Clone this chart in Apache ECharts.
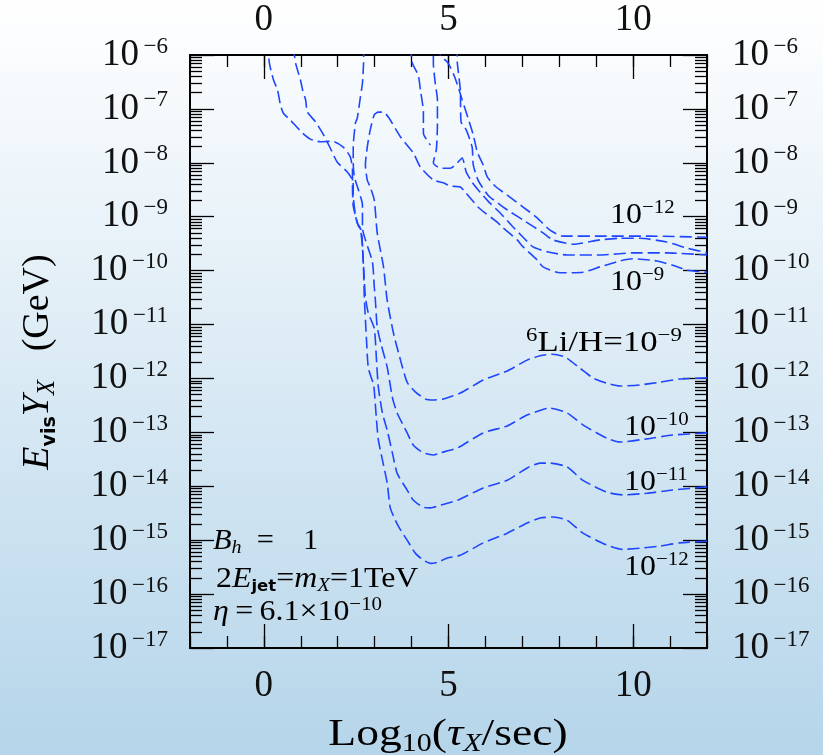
<!DOCTYPE html>
<html><head><meta charset="utf-8">
<script src="https://cdn.jsdelivr.net/npm/echarts@6/dist/echarts.min.js"></script>
<style>html,body{margin:0;padding:0;background:#fff;} #c{width:823px;height:755px;}</style>
</head><body><div id="c"></div>
<script>
// x: log10(tau_X / sec);  y: log10(E_vis * Y_X / GeV)
const xMajorTicks = [0, 5, 10];
const yDecades = [-17, -16, -15, -14, -13, -12, -11, -10, -9, -8, -7, -6];
const minorMantissas = [2, 3, 4, 5, 6, 7, 8, 9];

// 6Li/H = 1e-9 contour
const contour9 = [
 [12.0,-11.99],[11.26,-12.01],[10.72,-12.07],[10.18,-12.12],[9.64,-12.14],[9.29,-12.09],[8.91,-11.99],[8.56,-11.81],[8.15,-11.60],[7.80,-11.55],[7.48,-11.58],[7.13,-11.66],[6.59,-11.86],[5.94,-12.03],[5.32,-12.27],[4.86,-12.38],[4.59,-12.40],[4.37,-12.38],[4.10,-12.25],[3.88,-12.07],[3.70,-11.66],[3.51,-11.16],[3.34,-10.55],[3.24,-9.93],[3.07,-9.30],[2.99,-8.69],[2.88,-8.45],[2.80,-8.32],[2.75,-8.04],[2.80,-7.71],[2.88,-7.39],[2.99,-7.11],[3.10,-7.06],[3.24,-7.06],[3.37,-7.15],[3.70,-7.52],[4.05,-7.82],[4.24,-8.08],[4.59,-8.32],[4.86,-8.37],[5.05,-8.43],[5.32,-8.45],[5.45,-8.54],[5.80,-8.82],[5.99,-8.93],[6.32,-9.10],[6.45,-9.19],[6.86,-9.43],[7.02,-9.56],[7.40,-9.80],[7.56,-9.93],[8.02,-10.04],[8.64,-10.03],[9.10,-9.93],[9.64,-9.82],[9.99,-9.78],[10.64,-9.82],[11.07,-9.90],[11.45,-9.99],[12.0,-10.03]
];
// 6Li/H = 1e-10 contour
const contour10 = [
 [12.0,-13.01],[11.07,-13.05],[10.37,-13.12],[9.64,-13.18],[9.29,-13.11],[8.64,-12.86],[8.21,-12.64],[7.75,-12.55],[7.13,-12.68],[6.59,-12.88],[5.94,-13.01],[5.24,-13.29],[4.78,-13.38],[4.59,-13.42],[4.32,-13.38],[4.05,-13.24],[3.88,-13.01],[3.61,-12.64],[3.48,-12.35],[3.34,-11.79],[3.18,-11.38],[3.07,-11.05],[3.02,-10.55],[2.99,-10.30],[2.94,-9.84],[2.75,-9.43],[2.67,-9.21],[2.67,-8.78],[2.56,-8.50],[2.45,-8.26],[2.42,-8.00],[2.42,-7.71],[2.48,-7.26],[2.53,-7.17],[2.61,-6.80],[2.67,-6.52],[2.70,-6.15],[2.72,-5.72],[4.59,-5.72],[4.59,-6.15],[4.64,-6.52],[4.70,-6.83],[4.70,-7.30],[4.67,-7.76],[4.59,-8.00],[4.78,-8.10],[5.05,-8.10],[5.24,-8.00],[5.37,-7.91],[5.48,-8.17],[5.64,-8.36],[5.80,-8.50],[6.07,-8.71],[6.40,-8.93],[6.75,-9.19],[7.02,-9.38],[7.29,-9.56],[7.67,-9.65],[8.21,-9.71],[9.10,-9.71],[9.99,-9.67],[10.91,-9.67],[12.0,-9.71]
];
// 6Li/H = 1e-11 contour
const contour11 = [
 [12.0,-14.01],[11.07,-14.07],[10.37,-14.13],[9.72,-14.16],[9.29,-14.11],[8.64,-13.89],[8.21,-13.64],[7.75,-13.57],[7.48,-13.57],[7.13,-13.66],[6.59,-13.89],[5.94,-14.03],[5.24,-14.26],[4.78,-14.35],[4.51,-14.40],[4.32,-14.39],[4.05,-14.26],[3.88,-14.07],[3.61,-13.76],[3.48,-13.38],[3.34,-12.96],[3.21,-12.64],[3.10,-12.16],[3.05,-11.66],[2.99,-11.07],[2.83,-10.79],[2.75,-10.49],[2.70,-9.93],[2.67,-9.56],[2.61,-9.21],[2.53,-9.12],[2.48,-8.97],[2.42,-8.60],[2.42,-8.36],[2.26,-8.17],[1.99,-7.99],[1.80,-7.73],[1.59,-7.45],[1.40,-7.24],[1.18,-7.06],[1.13,-6.83],[1.05,-6.65],[0.99,-6.46],[0.86,-6.15],[0.77,-5.72],[5.21,-5.72],[5.24,-6.15],[5.32,-6.65],[5.34,-7.24],[5.48,-7.39],[5.64,-7.71],[5.67,-8.04],[5.80,-8.32],[6.07,-8.60],[6.40,-8.78],[6.67,-8.91],[7.02,-9.06],[7.56,-9.30],[7.83,-9.43],[8.37,-9.51],[9.10,-9.43],[9.64,-9.40],[10.18,-9.40],[10.91,-9.47],[11.45,-9.58],[12.0,-9.67]
];
// 6Li/H = 1e-12 contour
const contour12 = [
 [12.0,-15.02],[11.26,-15.05],[10.72,-15.11],[10.18,-15.15],[9.72,-15.17],[9.29,-15.09],[8.64,-14.87],[8.21,-14.63],[7.83,-14.57],[7.48,-14.59],[7.13,-14.68],[6.59,-14.87],[5.94,-15.05],[5.32,-15.28],[4.97,-15.33],[4.70,-15.41],[4.51,-15.43],[4.32,-15.37],[4.10,-15.24],[3.88,-15.00],[3.70,-14.81],[3.56,-14.63],[3.42,-14.39],[3.34,-13.94],[3.21,-13.51],[3.10,-13.14],[3.05,-12.77],[2.99,-12.22],[2.96,-12.09],[2.83,-11.81],[2.78,-11.29],[2.72,-10.49],[2.70,-9.99],[2.67,-9.53],[2.64,-9.25],[2.56,-9.17],[2.42,-8.80],[2.40,-8.41],[2.40,-8.13],[2.34,-7.89],[2.15,-7.71],[1.86,-7.60],[1.53,-7.61],[1.26,-7.56],[1.05,-7.45],[0.72,-7.21],[0.53,-7.08],[0.45,-6.93],[0.37,-6.65],[0.26,-6.46],[0.15,-6.15],[0.10,-5.72],[4.67,-5.72],[4.78,-6.00],[4.99,-6.15],[5.18,-6.43],[5.37,-6.83],[5.53,-7.17],[5.67,-7.48],[5.78,-7.80],[5.94,-8.04],[6.05,-8.26],[6.26,-8.43],[6.59,-8.60],[7.02,-8.82],[7.40,-9.02],[7.75,-9.25],[8.10,-9.36],[9.10,-9.36],[10.45,-9.36],[12.0,-9.38]
];
// short separate piece near the top
const fragment = [[3.97,-5.81],[4.02,-6.15],[4.18,-6.37],[4.24,-6.65],[4.32,-7.06],[4.32,-7.45],[4.51,-7.67]];

const FONT = 'Liberation Serif';
const INK = '#111';
const BLUE = '#1f46ff';

const minorY = [];
yDecades.slice(0, -1).forEach(n => minorMantissas.forEach(k => minorY.push(n + Math.log10(k))));

const supLabel = v => '{b|10}{s|\u2009\u2212' + Math.abs(v) + '}';
const labRich = {
  b: {fontSize: 37, fontFamily: FONT, color: INK, lineHeight: 40},
  s: {fontSize: 23, fontFamily: FONT, color: INK, lineHeight: 30, verticalAlign: 'top'}
};
const tickStyle = {color: '#000', width: 1.3};

function xAx(pos, major) {
  return {
    type: 'value', position: pos, min: -2, max: 12, interval: 1,
    axisLine: {show: !major, onZero: false, lineStyle: {color: '#000', width: 2}},
    axisTick: major ? {inside: true, length: 24, customValues: xMajorTicks, lineStyle: tickStyle}
                    : {inside: true, length: 12, lineStyle: tickStyle},
    axisLabel: major ? {show: false} : {
      margin: pos === 'top' ? 16 : 20, fontSize: 37, fontFamily: FONT, color: INK,
      formatter: v => (xMajorTicks.indexOf(v) >= 0 ? String(v) : '')
    },
    splitLine: {show: false}
  };
}
function yAx(pos, major) {
  return {
    type: 'value', position: pos, min: -17, max: -6, interval: 1,
    axisLine: {show: major, onZero: false, lineStyle: {color: '#000', width: 2}},
    axisTick: major ? {inside: true, length: 24, lineStyle: tickStyle}
                    : {inside: true, length: 12, customValues: minorY, lineStyle: tickStyle},
    axisLabel: major ? {margin: pos === 'left' ? 22 : 25, formatter: supLabel, rich: labRich,
                        align: pos === 'left' ? 'right' : 'left'} : {show: false},
    splitLine: {show: false}
  };
}

function ser(data) {
  return {type: 'line', data: data, xAxisIndex: 0, yAxisIndex: 0, showSymbol: false, smooth: 0.2,
    clip: true, silent: true, lineStyle: {color: BLUE, width: 1.6, type: [12, 5]}};
}

const it = {fontSize: 38, fontFamily: FONT, fontStyle: 'italic', color: INK, lineHeight: 44};
const rm = {fontSize: 38, fontFamily: FONT, color: INK, lineHeight: 44};
const subS = {fontSize: 19, fontFamily: 'DejaVu Sans', fontWeight: 'bold', color: INK, lineHeight: 22, verticalAlign: 'bottom'};
const subI = {fontSize: 25, fontFamily: FONT, fontStyle: 'italic', color: INK, lineHeight: 28, verticalAlign: 'bottom'};
const subR = {fontSize: 25, fontFamily: FONT, color: INK, lineHeight: 28, verticalAlign: 'bottom'};

const a = {fontSize: 29, fontFamily: FONT, color: INK, lineHeight: 32};
const ai = {fontSize: 29, fontFamily: FONT, fontStyle: 'italic', color: INK, lineHeight: 32};
const asup = {fontSize: 19, fontFamily: FONT, color: INK, lineHeight: 22, verticalAlign: 'top'};
const asubI = {fontSize: 19, fontFamily: FONT, fontStyle: 'italic', color: INK, lineHeight: 18, verticalAlign: 'bottom'};
const asubS = {fontSize: 15, fontFamily: 'DejaVu Sans', fontWeight: 'bold', color: INK, lineHeight: 16, verticalAlign: 'bottom'};
const annRich = {a: a, ai: ai, sup: asup, si: asubI, ss: asubS};

function ann(x, y, text, sx) {
  return {type: 'text', x: x, y: y, scaleX: sx || 1.1, silent: true,
    style: {text: text, rich: annRich, align: 'left', verticalAlign: 'middle'}};
}

const chart = echarts.init(document.getElementById('c'), null, {renderer: 'canvas'});
chart.setOption({
  animation: false,
  backgroundColor: {type: 'linear', x: 0, y: 0, x2: 0, y2: 1,
    colorStops: [{offset: 0, color: '#ffffff'}, {offset: 1, color: '#b5d5ea'}]},
  grid: {left: 190, top: 55, width: 517, height: 593, show: true, borderColor: '#000', borderWidth: 2,
    backgroundColor: 'transparent'},
  xAxis: [xAx('bottom', false), xAx('bottom', true), xAx('top', false), xAx('top', true)],
  yAxis: [yAx('left', true), yAx('left', false), yAx('right', true), yAx('right', false)],
  series: [ser(contour9), ser(contour10), ser(contour11), ser(contour12), ser(fragment)],
  graphic: [
    {type: 'text', x: 38, y: 362, rotation: Math.PI / 2, silent: true,
     style: {text: '{i|E}{ss|vis}{i|Y}{si|X}{r|\u2002 (GeV)}', align: 'center', verticalAlign: 'middle',
       rich: {i: it, r: rm, ss: subS, si: subI}}},
    {type: 'text', x: 448, y: 735, scaleX: 1.2, silent: true,
     style: {text: '{r|Log}{sr|10}{r|(}{i|\u03c4}{si|X}{r|/sec)}', align: 'center', verticalAlign: 'middle',
       rich: {i: it, r: rm, sr: subR, si: subI}}},
    ann(213, 541, '{ai|B}{si|h}{a|\u2002=\u2002\u2009 1}', 1.05),
    ann(216, 579, '{a|2}{ai|E}{ss|jet}{a|=}{ai|m}{si|X}{a|=1TeV}'),
    ann(213, 612, '{ai|\u03b7}{a|\u2009=\u20096.1\u00d710}{sup|\u221210}'),
    ann(526, 343, '{sup|6}{a|Li/H=10}{sup|\u22129}', 1.2),
    ann(624, 427, '{a|10}{sup|\u221210}'),
    ann(624, 482, '{a|10}{sup|\u221211}'),
    ann(624, 567, '{a|10}{sup|\u221212}'),
    ann(610, 215, '{a|10}{sup|\u221212}'),
    ann(610, 282, '{a|10}{sup|\u22129}')
  ]
});
</script>
</body></html>
